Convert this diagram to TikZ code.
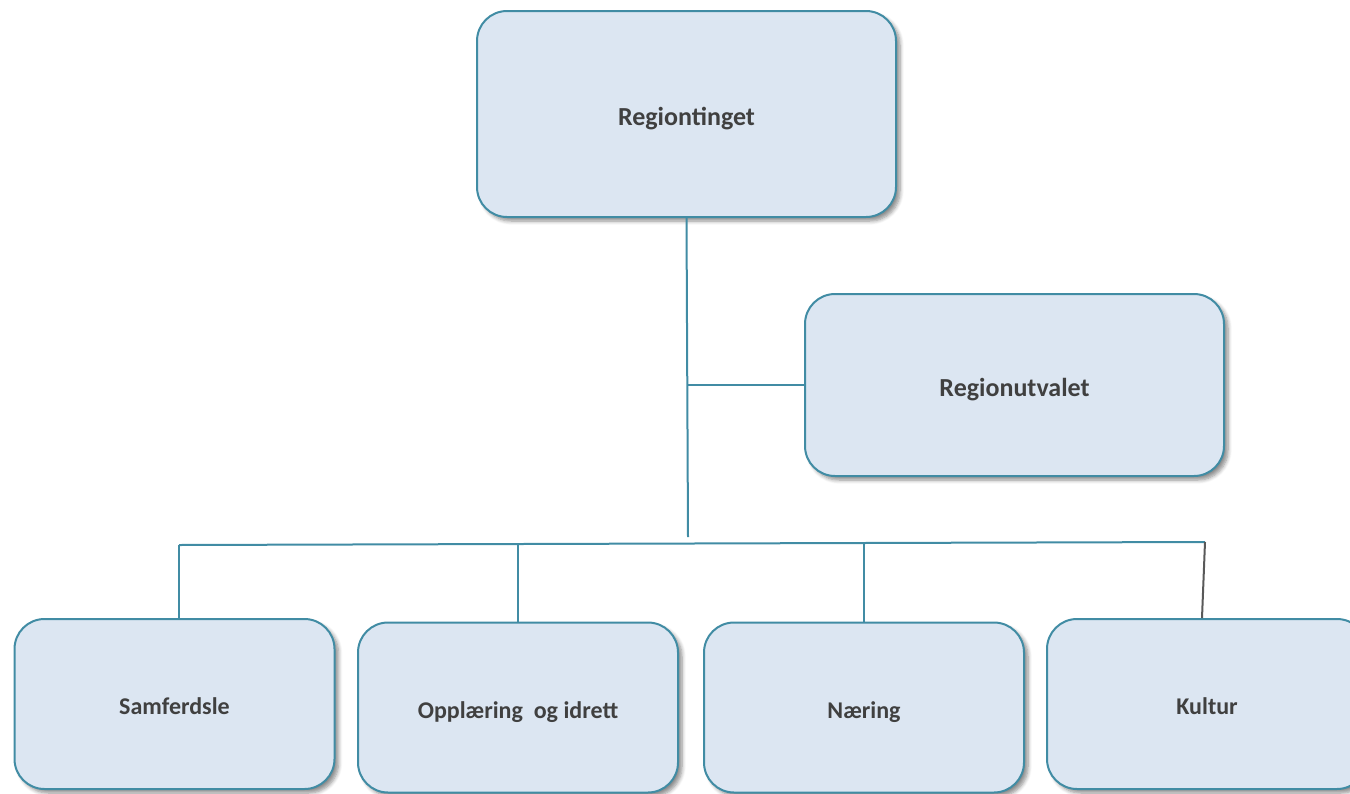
\documentclass[tikz,border=0pt]{standalone}
\usepackage{fontspec}
\setmainfont{Carlito}
\usetikzlibrary{positioning, shadows.blur}
\definecolor{boxfill}{HTML}{DCE6F2}
\definecolor{boxline}{HTML}{418CA4}
\definecolor{txtgray}{HTML}{404040}
\definecolor{dropgray}{HTML}{595959}

\begin{document}
\begin{tikzpicture}[
        x=0.5pt,
        y=-0.5pt,
        every node/.style={font=\bfseries\fontsize{12}{14}\selectfont, text=txtgray},
        unit/.style={draw=boxline, line width=1pt, fill=boxfill, rounded corners=15pt,
            minimum width=160pt, minimum height=85pt, text height=10.5pt, text depth=0pt,
            blur shadow={shadow xshift=2pt, shadow yshift=-2pt, shadow blur steps=6, shadow opacity=45}},
        board/.style={unit, minimum width=209.5pt, text height=11.6pt, font=\bfseries\fontsize{13}{15}\selectfont},
        link/.style={draw=boxline, line width=1pt}
    ]
    \useasboundingbox (0,0) rectangle (1350,793);

    \node[board, minimum height=103pt] (ting) at (686.5,114) {Regiontinget};
    \node[board, minimum height=91pt] (utval) at (1014.5,385) {Regionutvalet};
    \node[unit] (samf) at (174.5,704) {Samferdsle};
    \node[unit] (opp) at (518,707.5) {Opplæring~ og idrett};
    \node[unit] (naer) at (864,707.5) {Næring};
    \node[unit] (kult) at (1207,704) {Kultur};

    \coordinate (stem) at (688,537);
    \coordinate (busL) at (179,545);
    \coordinate (busR) at (1205,542);

    \draw[link] (ting.south) -- (stem);
    \draw[link] (utval.west) -- (utval.west -| ting.south);
    \draw[link] (busL) -- (busR);
    \draw[link] ([xshift=2.25pt]samf.north) -- (busL);
    \draw[link] (opp.north) -- (opp.north |- busL);
    \draw[link] (naer.north) -- (naer.north |- busR);
    \draw[link, draw=dropgray] ([xshift=-2.5pt]kult.north) -- (busR);
\end{tikzpicture}
\end{document}
